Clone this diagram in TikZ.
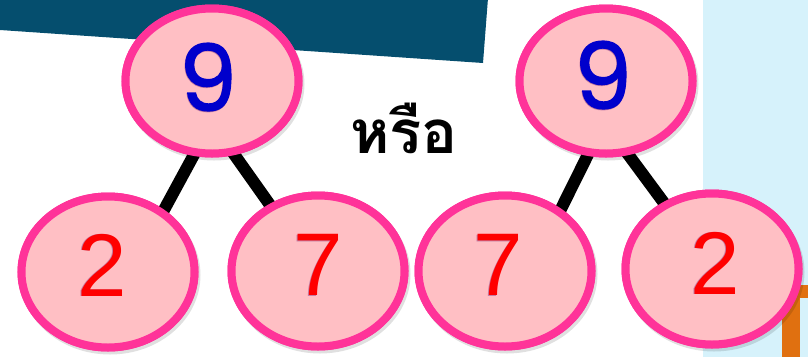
\documentclass[tikz,border=0pt]{standalone}
\usepackage{fontspec}
\setmainfont{Liberation Sans}
\newfontfamily\ninefont[FakeBold=1.4]{Poppins}
\newfontfamily\thaifont[Script=Thai]{Loma}
\definecolor{teal}{HTML}{054E6E}
\definecolor{skyb}{HTML}{D6F2FB}
\definecolor{orng}{HTML}{E07010}
\definecolor{pinkfill}{HTML}{FFBFC4}
\definecolor{pinkline}{HTML}{FF3399}
\definecolor{bluedig}{HTML}{0000CC}
\definecolor{reddig}{HTML}{FF0000}
\tikzset{
  bubble/.style={ellipse, draw=pinkline, fill=pinkfill, line width=8pt, inner sep=0pt, minimum width=173pt},
  topbub/.style={bubble, minimum height=145pt},
  botbub/.style={bubble, minimum height=151pt},
  shade/.style={ellipse, fill=black, opacity=0.12, inner sep=0pt, minimum width=181pt},
  conn/.style={line width=12pt, black, shorten <=-6pt, shorten >=-6pt},
  nine/.style={text=bluedig, font=\ninefont\fontsize{92}{92}\selectfont, inner sep=0pt},
  reddigit/.style={text=reddig, font=\fontsize{89}{89}\selectfont, inner sep=0pt},
  glow/.style={text=violet!60!gray, opacity=0.45},
}
\usetikzlibrary{shapes.geometric}
\begin{document}
\begin{tikzpicture}[x=1pt,y=-1pt]
\useasboundingbox (0,0) rectangle (808,357);
% background shapes
\fill[skyb] (703,0) rectangle (808,357);
\fill[teal] (0,-2) -- (488,-2) -- (483,63) -- (0,30) -- cycle;
\fill[orng] (782,290) rectangle (800,357);
\fill[orng] (782,285) rectangle (808,298);
% shadows
\node[shade, minimum height=153pt] (s1) at (214,84) {};
\node[shade, minimum height=153pt] (s2) at (608,84) {};
\node[shade, minimum height=159pt] (s3) at (110,275) {};
\node[shade, minimum height=159pt] (s4) at (320,274) {};
\node[shade, minimum height=159pt] (s5) at (507,274) {};
\node[shade, minimum height=159pt] (s6) at (714,272) {};
% bubbles (placed first for anchors)
\path node[topbub] (t1) at (212,81) {}
      node[topbub] (t2) at (606,81) {}
      node[botbub] (b1) at (108,272) {}
      node[botbub] (b2) at (318,271) {}
      node[botbub] (b3) at (505,271) {}
      node[botbub] (b4) at (712,269) {};
% connectors
\draw[conn] (t1.256) -- (b1.48);
\draw[conn] (t1.287) -- (b2.126);
\draw[conn] (t2.256) -- (b3.48);
\draw[conn] (t2.287) -- (b4.126);
% redraw bubbles on top
\node[topbub] (T1) at (t1) {};
\node[topbub] (T2) at (t2) {};
\node[botbub] (B1) at (b1) {};
\node[botbub] (B2) at (b2) {};
\node[botbub] (B3) at (b3) {};
\node[botbub] (B4) at (b4) {};
% digit glows
\node[nine, glow] (g1) at (207.5,77.8) {9};
\node[nine, glow] (g2) at (602.5,75.8) {9};
\node[reddigit, glow] (h1) at (101.3,265.8) {2};
\node[reddigit, glow] (h2) at (317.3,265.8) {7};
\node[reddigit, glow] (h3) at (497.3,265.8) {7};
\node[reddigit, glow] (h4) at (714.3,263.8) {2};
% digits
\node[nine] (n1) at (208,77) {9};
\node[nine] (n2) at (603,75) {9};
\node[reddigit] (d1) at (102,265) {2};
\node[reddigit] (d2) at (318,265) {7};
\node[reddigit] (d3) at (498,265) {7};
\node[reddigit] (d4) at (715,263) {2};
% or
\node[font=\thaifont\bfseries\fontsize{60}{60}\selectfont, inner sep=0pt] (or) at (404,128) {หรือ};
\end{tikzpicture}
\end{document}
